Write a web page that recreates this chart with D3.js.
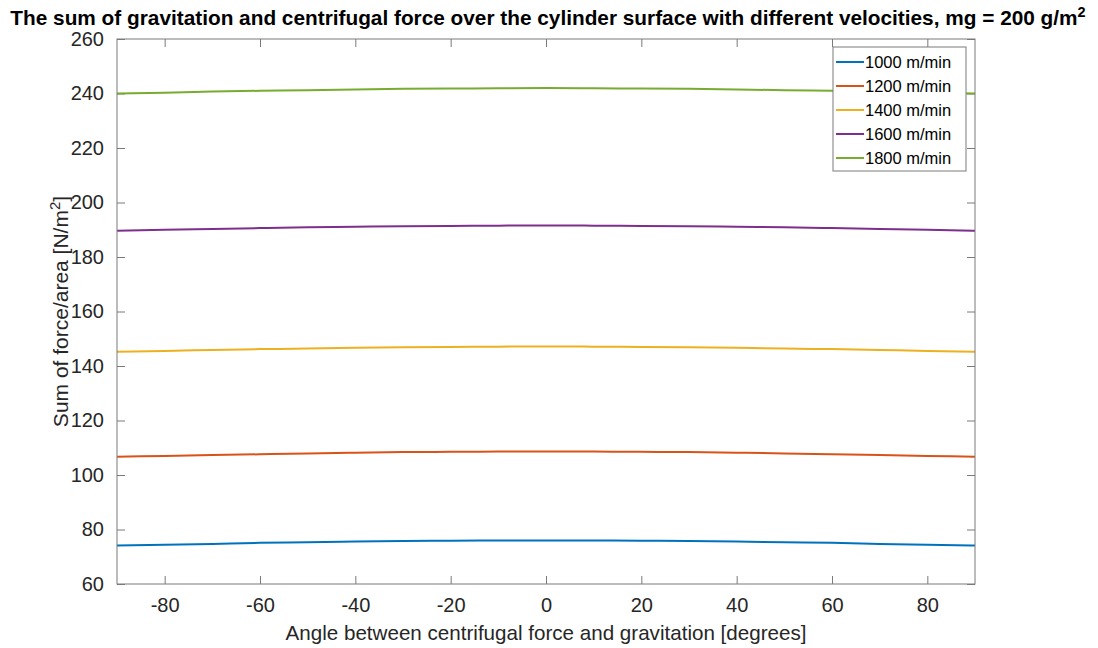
<!DOCTYPE html>
<html>
<head>
<meta charset="utf-8">
<script src="https://cdn.jsdelivr.net/npm/d3@7/dist/d3.min.js"></script>
<style>
  html, body { margin: 0; padding: 0; background: #fff; }
  svg { display: block; font-family: "Liberation Sans", Arial, sans-serif; }
</style>
</head>
<body>
<svg id="chart" width="1098" height="648"></svg>
<script>
// Angle grid (degrees) shared by all curves
const angles = [-90,-80,-70,-60,-50,-40,-30,-20,-10,0,10,20,30,40,50,60,70,80,90];

// Sum of force per area [N/m^2] for each web velocity
const v1000 = [74.1,74.4,74.7,75.1,75.3,75.6,75.8,75.9,76.0,76.0,76.0,75.9,75.8,75.6,75.3,75.1,74.7,74.4,74.1];
const v1200 = [106.7,107.0,107.3,107.6,107.9,108.2,108.4,108.5,108.6,108.6,108.6,108.5,108.4,108.2,107.9,107.6,107.3,107.0,106.7];
const v1400 = [145.2,145.5,145.9,146.2,146.4,146.7,146.9,147.0,147.1,147.2,147.1,147.0,146.9,146.7,146.4,146.2,145.9,145.5,145.2];
const v1600 = [189.6,190.0,190.3,190.6,190.9,191.1,191.3,191.4,191.5,191.6,191.5,191.4,191.3,191.1,190.9,190.6,190.3,190.0,189.6];
const v1800 = [240.0,240.3,240.7,241.0,241.2,241.5,241.7,241.8,241.9,242.0,241.9,241.8,241.7,241.5,241.2,241.0,240.7,240.3,240.0];

const seriesNames = ["1000 m/min","1200 m/min","1400 m/min","1600 m/min","1800 m/min"];
const seriesValues = [v1000, v1200, v1400, v1600, v1800];
const colors = ["#0072BD","#D95319","#EDB120","#7E2F8E","#77AC30"];

const xTicks = [-80,-60,-40,-20,0,20,40,60,80];
const yTicks = [60,80,100,120,140,160,180,200,220,240,260];

const margin = { left: 117, right: 1098 - 975, top: 39, bottom: 648 - 584 };
const W = 1098, H = 648;
const iw = W - margin.left - margin.right;
const ih = H - margin.top - margin.bottom;

const svg = d3.select("#chart");
const g = svg.append("g").attr("transform", `translate(${margin.left},${margin.top})`);

const x = d3.scaleLinear().domain([-90, 90]).range([0, iw]);
const y = d3.scaleLinear().domain([60, 260]).range([ih, 0]);

const axisColor = "#7a7a7a";
const textColor = "#262626";
const tickLen = 8;
const plainNum = d => String(d);

// Axes: ticks point inward, mirrored on top and right
function styleAxis(sel) {
  sel.select(".domain").remove();
  sel.selectAll(".tick line").attr("stroke", axisColor).attr("stroke-width", 1);
  sel.selectAll(".tick text").attr("fill", textColor).style("font-size", "20px");
}

g.append("g").attr("transform", `translate(0,${ih})`)
  .call(d3.axisBottom(x).tickValues(xTicks).tickSize(-tickLen).tickPadding(tickLen + 6).tickFormat(plainNum))
  .call(styleAxis);
g.append("g")
  .call(d3.axisTop(x).tickValues(xTicks).tickSize(-tickLen).tickFormat(""))
  .call(styleAxis);
g.append("g")
  .call(d3.axisLeft(y).tickValues(yTicks).tickSize(-tickLen).tickPadding(tickLen + 5).tickFormat(plainNum))
  .call(styleAxis);
g.append("g").attr("transform", `translate(${iw},0)`)
  .call(d3.axisRight(y).tickValues(yTicks).tickSize(-tickLen).tickFormat(""))
  .call(styleAxis);

// Curves
const line = d3.line()
  .x((d, i) => x(angles[i]))
  .y(d => y(d))
  .curve(d3.curveNatural);

g.selectAll("path.series")
  .data(seriesValues)
  .join("path")
  .attr("class", "series")
  .attr("fill", "none")
  .attr("stroke", (d, i) => colors[i])
  .attr("stroke-width", 2)
  .attr("d", line);

// Axes box
g.append("rect")
  .attr("x", 0).attr("y", 0).attr("width", iw).attr("height", ih)
  .attr("fill", "none").attr("stroke", axisColor).attr("stroke-width", 1);

// Legend
const lg = svg.append("g").attr("transform", "translate(833,47)");
lg.append("rect").attr("x", 0).attr("y", 0).attr("width", 133).attr("height", 124)
  .attr("fill", "#fff").attr("stroke", axisColor).attr("stroke-width", 1);
seriesNames.forEach((name, i) => {
  const yy = 15 + i * 24;
  lg.append("line").attr("x1", 3).attr("x2", 31).attr("y1", yy).attr("y2", yy)
    .attr("stroke", colors[i]).attr("stroke-width", 2);
  lg.append("text").attr("x", 32).attr("y", yy).attr("dy", "0.35em")
    .attr("fill", "#000").style("font-size", "16.5px").text(name);
});

// Title
const title = svg.append("text")
  .attr("x", 548).attr("y", 25)
  .attr("text-anchor", "middle")
  .attr("fill", "#000")
  .style("font-size", "20.8px").style("font-weight", "bold");
title.append("tspan").text("The sum of gravitation and centrifugal force over the cylinder surface with different velocities, mg = 200 g/m");
title.append("tspan").attr("dy", "-8").style("font-size", "14.5px").text("2");

// Axis labels
svg.append("text")
  .attr("x", margin.left + iw / 2).attr("y", 640)
  .attr("text-anchor", "middle").attr("fill", textColor)
  .style("font-size", "20.6px")
  .text("Angle between centrifugal force and gravitation [degrees]");

const yl = svg.append("text")
  .attr("transform", `translate(68,${margin.top + ih / 2}) rotate(-90)`)
  .attr("text-anchor", "middle").attr("fill", textColor)
  .style("font-size", "21px");
yl.append("tspan").text("Sum of force/area [N/m");
yl.append("tspan").attr("dy", "-8").style("font-size", "15px").text("2");
yl.append("tspan").attr("dy", "8").text("]");
</script>
</body>
</html>
